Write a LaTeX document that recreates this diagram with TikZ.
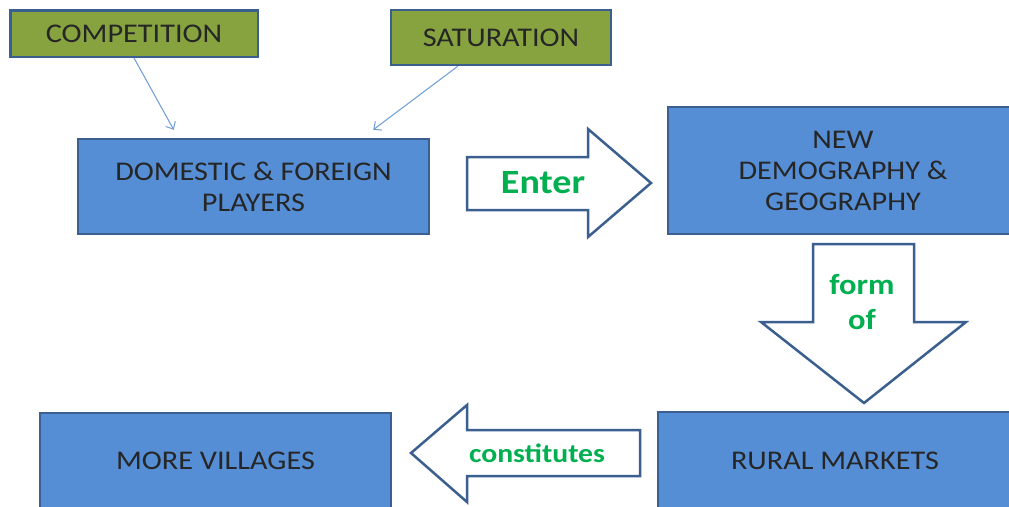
\documentclass[tikz,border=0pt]{standalone}
\usepackage{fontspec}
\setmainfont[FakeStretch=1.12]{Carlito}
\usetikzlibrary{arrows.meta,calc}
\definecolor{boxblue}{HTML}{558ED5}
\definecolor{edgeblue}{HTML}{3B5F8F}
\definecolor{olivefill}{HTML}{86A33F}
\definecolor{lblgreen}{HTML}{00B050}
\definecolor{connblue}{HTML}{6C9BD6}
\begin{document}
\begin{tikzpicture}[x=1pt,y=-1pt,
  bluebox/.style={draw=edgeblue, line width=2.5pt, fill=boxblue, inner sep=0pt, align=center, text=black!85, font=\fontsize{27}{31}\selectfont},
  greenbox/.style={bluebox, fill=olivefill},
  blockarrow/.style={draw=edgeblue, line width=2.5pt, fill=white, line join=miter},
  arrowlabel/.style={text=lblgreen, inner sep=0pt, align=center},
  link/.style={draw=connblue, line width=1pt, -{Straight Barb[length=6pt,width=11pt]}}]
\useasboundingbox (0,0) rectangle (1009,506);
\clip (0,0) rectangle (1009,506);
\fill[white] (0,0) rectangle (1009,506);

% boxes
\node[greenbox, minimum width=247.5pt, minimum height=46.5pt] (comp) at (134,33.5) {COMPETITION};
\node[greenbox, minimum width=220pt, minimum height=55pt] (sat) at (501,37.5) {SATURATION};
\node[bluebox, minimum width=351pt, minimum height=95pt] (dom) at (253.5,186.5) {DOMESTIC \& FOREIGN\\PLAYERS};
\node[bluebox, minimum width=350pt, minimum height=127pt] (demo) at (843,170.5) {NEW\\DEMOGRAPHY \&\\GEOGRAPHY};
\node[bluebox, minimum width=351pt, minimum height=96pt] (vill) at (215.5,461) {MORE VILLAGES};
\node[bluebox, minimum width=354pt, minimum height=98pt] (rural) at (835,461) {RURAL MARKETS};

% connectors
\draw[link] (comp.south) -- ([xshift=97pt,yshift=8pt]dom.north west);
\draw[link] ([xshift=68pt]sat.south west) -- ([xshift=-57pt,yshift=8pt]dom.north east);

% block arrows
\draw[blockarrow] (467,157) -- (588,157) -- (588,129) -- (651,183) -- (588,237) -- (588,210) -- (467,210) -- cycle;
\node[arrowlabel, font=\bfseries\fontsize{34}{36}\selectfont] (enter) at (543,183) {Enter};

\draw[blockarrow] (813,244) -- (914,244) -- (914,322) -- (966,322) -- (864,403) -- (761,322) -- (813,322) -- cycle;
\node[arrowlabel, font=\bfseries\fontsize{29}{35}\selectfont] (formof) at (862,302) {form\\of};

\draw[blockarrow] (411,453) -- (467,405) -- (467,430) -- (640,430) -- (640,476) -- (467,476) -- (467,502) -- cycle;
\node[arrowlabel, font=\bfseries\fontsize{26.5}{30}\selectfont] (const) at (537,453) {constitutes};
\end{tikzpicture}
\end{document}
